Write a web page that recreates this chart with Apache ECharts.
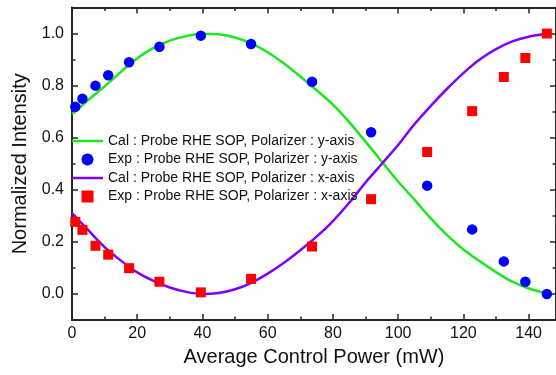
<!DOCTYPE html>
<html>
<head>
<meta charset="utf-8">
<script src="https://cdn.jsdelivr.net/npm/echarts@6/dist/echarts.min.js"></script>
<style>
  html, body { margin: 0; padding: 0; background: #fff; }
  #chart { width: 556px; height: 375px; }
</style>
</head>
<body>
<div id="chart"></div>
<script>
// Measured points (average control power in mW)
const powerPts = [1.0, 3.2, 7.2, 11.1, 17.5, 26.8, 39.5, 54.9, 73.6, 91.7, 108.9, 122.7, 132.4, 139.0, 145.6];
const expYAxis = [0.719, 0.75, 0.80, 0.84, 0.89, 0.949, 0.992, 0.96, 0.815, 0.621, 0.416, 0.248, 0.125, 0.047, 0.0];
const expXAxis = [0.277, 0.246, 0.185, 0.151, 0.099, 0.047, 0.006, 0.058, 0.182, 0.364, 0.545, 0.702, 0.833, 0.906, 1.0];

// Calculated curves
const calPower = [0, 5, 10, 15, 20, 25, 30, 35, 40, 45, 50, 55, 60, 65, 70, 75, 80, 85, 90, 95, 100, 105, 110, 115, 120, 125, 130, 135, 140, 145, 146];
const calYAxis = [0.69, 0.745, 0.797, 0.853, 0.905, 0.945, 0.973, 0.99, 0.999, 0.997, 0.985, 0.962, 0.928, 0.885, 0.835, 0.782, 0.727, 0.66, 0.585, 0.508, 0.432, 0.362, 0.29, 0.226, 0.171, 0.126, 0.084, 0.047, 0.021, 0.004, 0.0];
const calXAxis = [0.31, 0.245, 0.18, 0.128, 0.083, 0.05, 0.025, 0.008, 0.0, 0.004, 0.018, 0.043, 0.078, 0.12, 0.168, 0.22, 0.28, 0.35, 0.428, 0.5, 0.572, 0.652, 0.722, 0.788, 0.848, 0.9, 0.94, 0.97, 0.988, 0.998, 1.0];

// Tick positions
const xMajor = [0, 20, 40, 60, 80, 100, 120, 140];
const xMinor = [10, 30, 50, 70, 90, 110, 130];
const yMajor = [0, 0.2, 0.4, 0.6, 0.8, 1.0];
const yMinor = [-0.1, 0.1, 0.3, 0.5, 0.7, 0.9, 1.1];

const names = [
  'Cal : Probe RHE SOP, Polarizer : y-axis',
  'Exp : Probe RHE SOP, Polarizer : y-axis',
  'Cal : Probe RHE SOP, Polarizer : x-axis',
  'Exp : Probe RHE SOP, Polarizer : x-axis'
];

const FONT = '"Liberation Sans", Arial, sans-serif';
const AXIS_COLOR = '#262626';
const X_MIN = 0, X_MAX = 148.4, Y_MIN = -0.1, Y_MAX = 1.1;
const LINE_ICON = 'path://M0,0H124V10H0Z';

function zip(xs, ys) { return xs.map((x, i) => [x, ys[i]]); }

function xAx(position, ticks, len, withLine, withLabel, extra) {
  return Object.assign({
    type: 'value', position: position, min: X_MIN, max: X_MAX,
    splitLine: { show: false },
    axisLine: { show: withLine, onZero: false, lineStyle: { color: AXIS_COLOR, width: 2 } },
    axisTick: { show: true, inside: true, length: len, customValues: ticks, lineStyle: { color: AXIS_COLOR, width: 1.5 } },
    axisLabel: withLabel
      ? { show: true, customValues: ticks, fontSize: 16, fontFamily: FONT, color: '#111', margin: 6 }
      : { show: false },
    axisPointer: { show: false }
  }, extra || {});
}

function yAx(position, ticks, len, withLine, withLabel, extra) {
  return Object.assign({
    type: 'value', position: position, min: Y_MIN, max: Y_MAX,
    splitLine: { show: false },
    axisLine: { show: withLine, onZero: false, lineStyle: { color: AXIS_COLOR, width: 2 } },
    axisTick: { show: true, inside: true, length: len, customValues: ticks, lineStyle: { color: AXIS_COLOR, width: 1.5 } },
    axisLabel: withLabel
      ? { show: true, customValues: ticks, fontSize: 16, fontFamily: FONT, color: '#111', margin: 8,
          formatter: v => v.toFixed(1) }
      : { show: false },
    axisPointer: { show: false }
  }, extra || {});
}

const chart = echarts.init(document.getElementById('chart'), null, { renderer: 'canvas' });

chart.setOption({
  animation: false,
  backgroundColor: '#fff',
  grid: { left: 72, top: 7.5, width: 486, height: 312.5, containLabel: false },
  legend: {
    orient: 'vertical', left: 72, top: 134, padding: 0, itemGap: 4.5,
    itemWidth: 31, itemHeight: 12,
    textStyle: { fontSize: 14, fontFamily: FONT, color: '#111' },
    data: [
      { name: names[0], icon: LINE_ICON },
      { name: names[1], icon: 'circle' },
      { name: names[2], icon: LINE_ICON },
      { name: names[3], icon: 'path://M0,0H10V10H0Z' }
    ]
  },
  xAxis: [
    xAx('bottom', xMajor, 6, true, true, {
      name: 'Average Control Power (mW)', nameLocation: 'middle', nameGap: 27,
      nameTextStyle: { fontSize: 20, fontFamily: FONT, color: '#111' }
    }),
    xAx('bottom', xMinor, 3.5, false, false),
    xAx('top', xMajor, 6, true, false),
    xAx('top', xMinor, 3.5, false, false)
  ],
  yAxis: [
    yAx('left', yMajor, 6, true, true, {
      name: 'Normalized Intensity', nameLocation: 'middle', nameGap: 33,
      nameTextStyle: { fontSize: 20, fontFamily: FONT, color: '#111' }
    }),
    yAx('left', yMinor, 3.5, false, false),
    yAx('right', yMajor, 6, true, false),
    yAx('right', yMinor, 3.5, false, false)
  ],
  series: [
    {
      name: names[0], type: 'line', xAxisIndex: 0, yAxisIndex: 0,
      data: zip(calPower, calYAxis), smooth: 0.3, symbol: 'none',
      lineStyle: { color: '#1ee61e', width: 2.5 }, itemStyle: { color: '#1ee61e' }, z: 2
    },
    {
      name: names[2], type: 'line', xAxisIndex: 0, yAxisIndex: 0,
      data: zip(calPower, calXAxis), smooth: 0.3, symbol: 'none',
      lineStyle: { color: '#8000ff', width: 2.5 }, itemStyle: { color: '#8000ff' }, z: 2
    },
    {
      name: names[1], type: 'scatter', xAxisIndex: 0, yAxisIndex: 0,
      data: zip(powerPts, expYAxis), symbol: 'circle', symbolSize: 10.5,
      itemStyle: { color: '#0000ff', opacity: 1 }, z: 3
    },
    {
      name: names[3], type: 'scatter', xAxisIndex: 0, yAxisIndex: 0,
      data: zip(powerPts, expXAxis), symbol: 'rect', symbolSize: 10,
      itemStyle: { color: '#ff0000', opacity: 1 }, z: 3
    }
  ]
});
</script>
</body>
</html>
